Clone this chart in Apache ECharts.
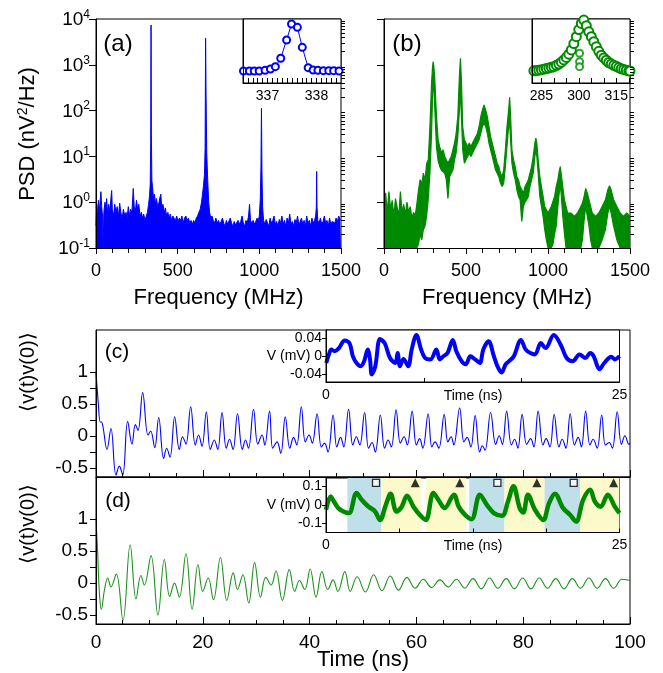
<!DOCTYPE html>
<html><head><meta charset="utf-8">
<script src="https://cdn.jsdelivr.net/npm/echarts@6/dist/echarts.min.js"></script>
<style>html,body{margin:0;padding:0;background:#fff}#chart{width:663px;height:673px}</style>
</head><body><div id="chart"></div>
<script>
// ---------------- DATA ----------------
// (a) PSD, blue spectrum (MHz, nV^2/Hz)
const aFreq = [0,5,10,15,20,25,30,35,40,44,48,55,60,65,72,78,85,92,96,100,108,115,122,130,138,145,152,160,168,176,184,190,198,205,212,220,228,234,240,248,255,262,270,278,285,292,300,308,315,322,328,332,335,337,339,342,346,352,358,364,370,378,386,392,397,402,410,418,425,432,440,448,455,462,470,478,486,494,502,510,518,526,534,542,550,558,566,574,582,590,598,606,614,622,630,638,646,652,658,664,668,671,674,678,684,690,696,702,710,718,726,734,742,750,758,766,774,782,790,798,806,814,822,830,838,846,854,862,870,878,886,894,902,910,918,926,934,940,946,954,962,970,978,986,994,1000,1006,1010,1013,1016,1020,1026,1034,1042,1050,1058,1066,1074,1082,1090,1098,1106,1114,1122,1130,1138,1146,1154,1162,1170,1178,1186,1194,1202,1210,1218,1226,1234,1242,1250,1258,1266,1274,1282,1290,1298,1306,1314,1322,1330,1338,1345,1349,1351,1353,1358,1366,1374,1382,1390,1398,1406,1414,1422,1430,1438,1446,1454,1462,1470,1478,1486,1494,1500];
const aPsd = [0.3,0.9,0.5,1.1,0.6,1.0,1.7,0.8,0.5,0.1,0.6,1.0,0.7,1.2,0.5,0.9,0.6,1.3,1.8,0.7,0.5,0.9,0.6,0.8,0.5,0.95,0.6,0.45,0.7,0.5,0.6,0.45,0.8,0.5,0.7,0.6,2.0,0.8,0.6,1.1,0.7,0.9,0.5,0.6,0.45,0.55,0.4,0.5,0.6,0.9,1.4,2.5,20,7400,30,3,2.2,1.2,1.5,0.9,1.2,0.8,1.0,1.3,1.5,0.8,0.9,0.6,0.75,0.5,0.6,0.45,0.55,0.4,0.5,0.45,0.4,0.5,0.38,0.45,0.4,0.5,0.35,0.45,0.5,0.4,0.45,0.35,0.4,0.33,0.4,0.35,0.45,0.5,0.6,0.7,1.0,1.5,2.3,4,15,3800,200,12,3,1.0,0.6,0.45,0.5,0.4,0.35,0.45,0.35,0.4,0.33,0.38,0.45,0.35,0.3,0.4,0.33,0.35,0.45,0.35,0.3,0.38,0.32,0.35,0.4,0.33,0.38,0.5,0.35,0.3,0.4,0.35,0.5,0.9,0.4,0.35,0.4,0.33,0.38,0.45,0.4,0.5,1.2,6,112,5,0.8,0.4,0.33,0.42,0.35,0.3,0.45,0.35,0.4,0.5,0.33,0.38,0.3,0.42,0.35,0.5,0.33,0.4,0.3,0.45,0.35,0.55,0.33,0.38,0.3,0.42,0.35,0.5,0.32,0.38,0.45,0.33,0.4,0.3,0.5,0.35,0.4,0.3,0.45,0.35,0.4,0.5,0.8,4.7,0.8,0.4,0.35,0.45,0.33,0.38,0.5,0.35,0.4,0.3,0.45,0.33,0.38,0.42,0.35,0.45,0.38,0.5,0.42,0.4];
// (a) inset: zoom on the 337 MHz line
const aInsetFreq = [336.51,336.63,336.73,336.83,336.95,337.06,337.16,337.27,337.39,337.49,337.61,337.71,337.83,337.93,338.03,338.14,338.25,338.35,338.46];
const aInsetPsd = [0.87,0.87,0.87,0.87,0.98,1.24,1.89,8.5,229,4070,2230,61,1.58,1.04,0.98,0.92,0.92,0.92,0.87];
// (b) PSD, green spectrum: upper and lower edge of the noisy trace
const bFreq = [0,10,20,30,40,50,60,70,80,90,100,110,120,130,140,150,160,170,180,190,200,210,220,230,240,250,260,270,280,290,296,300,304,310,320,330,340,350,360,370,380,390,400,410,420,430,440,450,460,466,472,480,490,500,510,520,530,540,550,560,570,580,590,600,610,620,630,640,650,660,670,680,690,700,710,720,730,740,750,760,766,772,780,790,800,810,820,830,840,850,860,870,880,890,900,910,920,926,932,940,950,960,970,980,990,1000,1010,1020,1030,1040,1050,1060,1070,1075,1080,1090,1100,1110,1120,1140,1160,1180,1200,1210,1220,1230,1240,1250,1260,1270,1290,1310,1330,1350,1365,1375,1385,1400,1420,1440,1460,1480,1500];
const bHigh = [0.8,1.6,0.6,1.7,0.7,1.1,0.5,1.2,0.78,0.5,1.7,0.6,0.9,0.55,1.0,0.6,0.8,0.45,0.6,0.5,0.9,1.8,3.1,2.5,4.3,3.0,7.0,8.5,45,400,900,1170,900,470,74,23,16,12,14,10,8.4,7.1,8.4,10,13.9,19.5,32,74,600,1390,470,45,23,19.5,16.5,19.5,16.5,19.5,23,27,32,45,74,104,133,104,74,45,27,19.5,13.9,10,7.1,6.0,4.3,3.65,5.1,13.9,45,104,196,74,13.9,8.4,6.0,3.65,3.1,2.2,1.87,1.58,2.2,2.6,3.1,4.3,6.0,10,19.5,25,19.5,8.4,3.65,2.2,1.34,0.81,0.81,0.58,0.58,0.81,0.81,1.34,2.2,3.1,5.1,6.0,4.3,2.2,1.13,0.81,0.58,0.58,0.49,0.58,0.81,0.96,1.34,2.0,1.58,1.13,0.81,0.58,0.49,0.58,0.81,1.13,1.87,2.3,1.87,1.13,0.81,0.58,0.49,0.58,0.49];
const bLow = [0.1,0.1,0.1,0.1,0.1,0.1,0.1,0.1,0.1,0.1,0.1,0.1,0.1,0.1,0.1,0.1,0.1,0.1,0.1,0.1,0.1,0.12,0.2,0.15,0.25,0.3,0.5,1.2,4.3,32,200,470,330,104,16,8,6,5,5,4.3,3.1,1.2,3.6,4.3,5,8.4,12,27,104,335,74,13.9,7.1,8.4,10,11.8,10,11.8,13.9,16.5,19.5,23,32,45,53,45,32,19.5,13.9,10,7.1,5.1,4.3,3.6,2.6,2.2,2.6,6,16.5,45,53,23,7.1,4.3,3.1,1.87,1.34,1.13,0.38,0.81,1.0,1.13,1.34,2.2,3.1,4.3,10,13.9,10,4.3,1.34,0.81,0.49,0.25,0.15,0.1,0.1,0.1,0.12,0.2,0.3,0.8,1.8,2.2,1.58,0.5,0.21,0.1,0.1,0.1,0.1,0.1,0.1,0.15,0.4,0.81,0.49,0.3,0.15,0.1,0.1,0.1,0.15,0.25,0.58,0.81,0.58,0.3,0.15,0.1,0.1,0.1,0.1];
// (b) inset: zoom on the 300 MHz line
const bInsetFreq = [281,282,283,284,285,286,287,288,289,290,291,292,293,294,295,296,297,298,299,300,301,302,303,304,305,306,307,308,309,310,311,312,313,314,315,316,317,318,319,320,320.5];
const bInsetPsd = [0.87,0.9,0.95,1.0,1.1,1.2,1.35,1.5,1.7,1.9,2.4,3.0,4.2,6.3,10,18,38,120,415,1500,4500,8300,3000,1000,415,170,69,30,15,9,6,4,3.1,2.4,2.0,1.6,1.3,1.15,1.0,0.9,0.87];
const bInsetOutFreq = [300.3,300.3,300.3];
const bInsetOutPsd = [4.6,1.9,21];
// (c) autocorrelation, blue (time ns, normalised)
const cTime = [0,0.4,0.8,1.0,1.3,2.06,2.8,3.75,4.37,5.0,5.93,6.74,7.37,7.87,8.74,9.74,10.24,11.0,11.74,12.67,13.24,13.86,14.73,15.6,16.2,16.85,17.73,18.6,19.2,19.85,20.66,21.4,22.15,22.8,23.6,24.4,25.0,25.66,26.5,27.4,28.0,28.55,29.5,30.3,31.1,31.6,32.5,33.1,33.9,34.6,35.45,36.3,37.0,37.6,38.45,39.2,39.9,40.5,41.4,42.2,42.8,43.45,44.4,45.1,45.8,46.4,47.3,48.1,48.75,49.4,50.3,51.05,51.7,52.3,53.25,54.05,54.7,55.3,56.2,57.0,57.7,58.3,59.2,60.0,60.6,61.2,62.2,62.9,63.5,64.2,65.2,65.9,66.5,67.0,68.1,68.9,69.5,70.2,71.0,71.85,72.35,72.85,73.9,74.85,75.5,76.1,76.9,77.8,78.4,79.0,79.8,80.65,81.4,82.0,82.8,83.7,84.3,85.0,85.8,86.7,87.3,88.0,88.8,89.6,90.3,90.9,91.7,92.5,93.1,93.85,94.7,95.4,96.1,96.7,97.6,98.4,99.06,99.8,100];
const cCorr = [1.0,0.55,0.22,0.22,0.15,-0.21,0.12,-0.61,-0.47,-0.61,0.23,-0.125,0.18,0.09,0.68,0.016,0.08,-0.18,0.29,-0.35,-0.19,-0.33,0.30,-0.21,-0.01,-0.125,0.46,-0.14,0.016,-0.16,0.38,-0.21,-0.06,-0.21,0.37,-0.19,-0.05,-0.21,0.35,-0.21,-0.06,-0.19,0.42,-0.125,0.016,-0.14,0.39,-0.19,-0.09,-0.27,0.30,-0.19,-0.02,-0.14,0.46,-0.09,0.016,-0.11,0.35,-0.17,-0.11,-0.25,0.33,-0.17,-0.02,-0.17,0.42,-0.14,-0.01,-0.14,0.37,-0.19,-0.10,-0.25,0.33,-0.19,-0.06,-0.17,0.41,-0.11,-0.01,-0.14,0.39,-0.14,-0.04,-0.19,0.35,-0.17,-0.09,-0.19,0.34,-0.09,-0.01,-0.14,0.44,-0.09,-0.02,-0.17,0.32,-0.25,-0.15,-0.22,0.37,-0.13,0.005,-0.13,0.39,-0.14,-0.05,-0.19,0.34,-0.13,-0.04,-0.17,0.39,-0.14,-0.04,-0.17,0.34,-0.17,-0.05,-0.19,0.35,-0.14,-0.02,-0.17,0.39,-0.14,-0.05,-0.19,0.33,-0.14,-0.10,-0.19,0.38,-0.13,0.005,-0.13,-0.11];
// (c) inset: voltage trace (ns, mV)
const cInsetTime = [0.02,0.25,0.45,0.74,1.1,1.6,2.0,2.3,2.6,2.95,3.25,3.55,3.75,3.9,4.2,4.6,5.0,5.45,5.9,6.1,6.3,6.6,7.0,7.3,7.7,8.1,8.45,8.9,9.4,9.7,10.0,10.35,10.8,11.1,11.55,11.9,12.3,12.7,13.1,13.4,13.85,14.3,14.6,14.95,15.3,15.6,16.0,16.6,17.0,17.4,17.8,18.3,18.7,19.4,20.0,20.5,21.0,21.6,22.1,22.5,22.8,23.3,23.7,24.3,24.6,25.0];
const cInsetV = [-0.015,0.004,0.015,0.011,0.018,0.035,0.029,-0.001,-0.015,-0.022,-0.011,0.015,-0.007,-0.04,-0.022,0.038,0.029,-0.004,-0.015,0.007,-0.022,-0.006,-0.022,0.015,0.047,0.015,-0.004,-0.007,0.015,-0.007,0,0.007,0.036,0.011,-0.011,-0.018,0,-0.007,-0.015,0.015,0.033,0,-0.022,-0.036,-0.018,-0.011,0,0.036,0.015,0.007,0.004,0.029,0.018,0.047,0.025,-0.004,-0.011,0.004,-0.004,0.007,0,-0.029,-0.015,-0.001,-0.007,0];
// (d) autocorrelation, green
const dTime = [0,0.3,0.6,1.0,1.6,2.2,2.8,3.8,5.05,6.4,7.5,8.4,9.05,10.3,11.6,12.8,13.8,14.7,15.6,16.85,18.0,19.1,20.0,21.0,22.0,23.3,24.5,25.7,26.5,27.5,28.6,29.7,30.8,31.8,32.8,33.7,34.9,36.2,37.2,38.1,39.1,40.1,41.2,42.3,43.4,44.4,45.3,46.6,47.6,48.9,50.45,52.0,53.55,55.1,56.65,58.2,59.75,61.3,62.85,64.4,65.95,67.5,69.05,70.6,72.15,73.7,75.25,76.8,78.35,79.9,81.45,83.0,84.55,86.1,87.65,89.2,90.75,92.3,93.85,95.4,96.95,98.5,100];
const dCorr = [1.0,0.5,-0.1,-0.41,-0.1,0.08,-0.06,0.14,-0.58,0.60,-0.25,0.12,-0.03,0.43,-0.50,0.37,-0.21,0.0,-0.22,0.46,-0.41,0.29,-0.13,0.08,-0.26,0.40,-0.27,0.16,-0.10,0.13,-0.31,0.32,-0.22,0.09,-0.03,0.19,-0.27,0.21,-0.13,0.04,-0.10,0.22,-0.22,0.18,-0.10,0.05,-0.13,0.18,-0.13,0.10,-0.14,0.13,-0.12,0.11,-0.11,0.09,-0.08,0.06,-0.07,0.05,-0.06,0.06,-0.08,0.07,-0.09,0.08,-0.08,0.07,-0.09,0.08,-0.09,0.08,-0.08,0.07,-0.09,0.07,-0.08,0.08,-0.08,0.07,-0.08,0.06,0.04];
// (d) inset: voltage trace
const dInsetTime = [0,0.4,0.65,1.05,1.48,1.96,2.6,3.04,3.6,4.18,4.6,5.1,5.5,6.0,6.45,6.9,7.45,8.0,8.5,9.15,9.66,10.1,10.9,11.3,11.85,12.4,13.1,13.7,14.3,15.0,15.5,15.97,16.5,16.8,17.2,17.8,18.5,19.0,19.5,20.2,20.8,21.3,21.9,22.5,22.9,23.4,24.0,24.6,25.0];
const dInsetV = [-0.027,0.045,0.02,-0.018,-0.036,-0.045,0.064,0.027,-0.009,-0.036,-0.082,0,0.06,-0.036,-0.01,0.049,-0.01,-0.055,-0.082,0.064,0.018,-0.018,0.055,-0.01,-0.055,-0.078,0.055,0,-0.045,-0.06,0.018,0.1,-0.018,-0.042,0.055,-0.027,-0.082,0.009,0.06,-0.018,-0.055,-0.091,0.027,0.082,0.018,-0.01,0.055,-0.01,-0.045];
const dBlueBands = [[1.82,4.69],[12.2,15.2],[18.6,21.65]];
const dYellowBands = [[4.69,8.1],[8.53,11.95],[15.2,18.6],[21.65,25]];
const dSquareTimes = [4.26,14.6,21.1];
const dTriangleTimes = [7.6,11.4,17.96,24.5];
const markerLevel = 0.119;
// tick labels
const psdTicks = [0.1,1,10,100,1000,10000];
const freqTicks = [0,500,1000,1500];
const corrLabels = [-0.5,0,0.5,1];
const corrTicks = [-0.5,-0.25,0,0.25,0.5,0.75,1];
const aInsetLabels = [337,338];
const bInsetLabels = [285,300,315];
const cInsetYLabels = [-0.04,0,0.04];
const dInsetYLabels = [-0.1,0,0.1];
const insetTimeLabels = [0,25];

// ---------------- CHART ----------------
const FONT = "'Liberation Sans', Arial, Helvetica, sans-serif";
const BLUE = '#0000ff', GREEN = '#008a00', DGREEN = '#1c921c';
const zip = (a, b) => a.map((x, i) => [x, b[i]]);
const minorLog = [];
for (let e = -1; e < 4; e++) for (let k = 2; k <= 9; k++) minorLog.push(+(k * Math.pow(10, e)).toPrecision(3));
const range = (a, b, s) => { const r = []; for (let v = a; v <= b + 1e-9; v += s) r.push(+v.toFixed(4)); return r; };
const plain = v => String(v);

const black = { color: '#000', width: 1 };
function baseAxis(o) {
  const base = {
    splitLine: { show: false },
    axisTick: { lineStyle: black },
    axisLabel: { color: '#000', fontFamily: FONT, formatter: plain },
    z: 10
  };
  const r = Object.assign(base, o);
  r.axisLine = Object.assign({ show: true, onZero: false, lineStyle: black }, o.axisLine || {});
  return r;
}
const grids = [
  { left: 96, top: 19, width: 245, height: 229 },
  { left: 384, top: 19, width: 246, height: 229 },
  { left: 243, top: 19, width: 98, height: 64, backgroundColor: '#fff', z: 5 },
  { left: 532, top: 19, width: 98, height: 64, backgroundColor: '#fff', z: 5 },
  { left: 96, top: 330, width: 534, height: 147 },
  { left: 96, top: 477, width: 534, height: 147 },
  { left: 326, top: 330, width: 293.5, height: 52, backgroundColor: '#fff', z: 5 },
  { left: 326, top: 478, width: 293.5, height: 54.5, backgroundColor: '#fff', z: 5 }
].map(g => Object.assign({ show: true, borderColor: '#000', borderWidth: 1, containLabel: false }, g));

const lbl = (o) => Object.assign({ color: '#000', fontFamily: FONT, formatter: plain }, o);
const xAxes = [
  baseAxis({ gridIndex: 0, type: 'value', min: 0, max: 1500, interval: 500,
    axisTick: { length: 6, lineStyle: black }, minorTick: { show: true, splitNumber: 5, length: 5, lineStyle: black },
    axisLabel: lbl({ fontSize: 18, margin: 14, customValues: freqTicks }) }),
  baseAxis({ gridIndex: 1, type: 'value', min: 0, max: 1500, interval: 500,
    axisTick: { length: 6, lineStyle: black }, minorTick: { show: true, splitNumber: 5, length: 5, lineStyle: black },
    axisLabel: lbl({ fontSize: 18, margin: 14, customValues: freqTicks }) }),
  baseAxis({ gridIndex: 2, type: 'value', min: 336.5, max: 338.5, z: 8,
    axisTick: { inside: true, length: 5, lineStyle: black, customValues: range(336.6, 338.4, 0.1) },
    axisLabel: lbl({ fontSize: 14, margin: 6, customValues: aInsetLabels }) }),
  baseAxis({ gridIndex: 3, type: 'value', min: 281.25, max: 320.5, z: 8,
    axisTick: { inside: true, length: 5, lineStyle: black, customValues: range(285, 320, 5) },
    axisLabel: lbl({ fontSize: 14, margin: 6, customValues: bInsetLabels }) }),
  baseAxis({ gridIndex: 4, type: 'value', min: 0, max: 100, interval: 20,
    axisTick: { inside: true, length: 7, lineStyle: black }, minorTick: { show: true, splitNumber: 4, length: 4, lineStyle: black },
    axisLabel: { show: false } }),
  baseAxis({ gridIndex: 5, type: 'value', min: 0, max: 100, interval: 20,
    axisTick: { inside: true, length: 7, lineStyle: black }, minorTick: { show: true, splitNumber: 4, length: 4, lineStyle: black },
    axisLabel: lbl({ fontSize: 19, margin: 9 }) }),
  baseAxis({ gridIndex: 6, type: 'value', min: 0, max: 25, interval: 25 / 3, z: 8,
    axisTick: { inside: true, length: 4, lineStyle: black },
    axisLabel: lbl({ fontSize: 14, margin: 6, customValues: insetTimeLabels }) }),
  baseAxis({ gridIndex: 7, type: 'value', min: 0, max: 25, interval: 6.25, z: 8,
    axisTick: { inside: true, length: 4, lineStyle: black },
    axisLabel: lbl({ fontSize: 14, margin: 6, customValues: insetTimeLabels }) })
];

const logLabel = {
  color: '#000', fontFamily: FONT, margin: 6, customValues: psdTicks,
  formatter: v => '{b|10}{s|' + Math.round(Math.log10(v)) + '}',
  rich: { b: { fontSize: 19, fontFamily: FONT, color: '#000', verticalAlign: 'bottom' },
          s: { fontSize: 12, fontFamily: FONT, color: '#000', verticalAlign: 'bottom', padding: [0, 0, 9, 0] } }
};
const voltFmt = v => v === 0 ? 'V (mV) 0' : String(v);
const yAxes = [
  baseAxis({ gridIndex: 0, type: 'log', min: 0.1, max: 10000, axisTick: { length: 7, lineStyle: black, customValues: psdTicks }, axisLabel: logLabel }),
  baseAxis({ gridIndex: 0, type: 'log', min: 0.1, max: 10000, axisLine: { show: false }, axisTick: { length: 4, lineStyle: black, customValues: minorLog }, axisLabel: { show: false } }),
  baseAxis({ gridIndex: 1, type: 'log', min: 0.1, max: 10000, axisTick: { length: 7, lineStyle: black, customValues: psdTicks }, axisLabel: { show: false } }),
  baseAxis({ gridIndex: 1, type: 'log', min: 0.1, max: 10000, axisLine: { show: false }, axisTick: { length: 4, lineStyle: black, customValues: minorLog }, axisLabel: { show: false } }),
  baseAxis({ gridIndex: 2, type: 'log', min: 0.1, max: 10000, z: 8, axisTick: { show: false }, axisLabel: { show: false } }),
  baseAxis({ gridIndex: 3, type: 'log', min: 0.1, max: 10000, z: 8, axisTick: { show: false }, axisLabel: { show: false } }),
  baseAxis({ gridIndex: 4, type: 'value', min: -0.64, max: 1.66, axisTick: { length: 6, lineStyle: black, customValues: corrTicks },
    axisLabel: lbl({ fontSize: 19, margin: 8, customValues: corrLabels }) }),
  baseAxis({ gridIndex: 5, type: 'value', min: -0.64, max: 1.66, axisTick: { length: 6, lineStyle: black, customValues: corrTicks },
    axisLabel: lbl({ fontSize: 19, margin: 8, customValues: corrLabels }) }),
  baseAxis({ gridIndex: 6, type: 'value', min: -0.057, max: 0.058, z: 8, axisTick: { length: 4, lineStyle: black, customValues: cInsetYLabels },
    axisLabel: lbl({ fontSize: 14, margin: 4, customValues: cInsetYLabels, formatter: voltFmt }) }),
  baseAxis({ gridIndex: 7, type: 'value', min: -0.15, max: 0.145, z: 8, axisTick: { length: 4, lineStyle: black, customValues: dInsetYLabels },
    axisLabel: lbl({ fontSize: 14, margin: 4, customValues: dInsetYLabels, formatter: voltFmt }) })
];

const bandData = (bands) => bands.map(b => [{ xAxis: b[0] }, { xAxis: b[1] }]);
const dInsetPts = zip(dInsetTime, dInsetV);
const series = [
  { type: 'line', xAxisIndex: 0, yAxisIndex: 0, data: zip(aFreq, aPsd), showSymbol: false,
    lineStyle: { color: BLUE, width: 1 }, areaStyle: { color: BLUE, opacity: 1, origin: 'start' }, z: 2 },
  { type: 'line', xAxisIndex: 1, yAxisIndex: 2, data: zip(bFreq, bHigh), showSymbol: false,
    lineStyle: { color: GREEN, width: 1.2 }, areaStyle: { color: GREEN, opacity: 1, origin: 'start' }, z: 2 },
  { type: 'line', xAxisIndex: 1, yAxisIndex: 2, data: zip(bFreq, bLow), showSymbol: false,
    lineStyle: { color: GREEN, width: 1.2 }, areaStyle: { color: '#fff', opacity: 1, origin: 'start' }, z: 3 },
  { type: 'line', xAxisIndex: 2, yAxisIndex: 4, data: zip(aInsetFreq, aInsetPsd), symbol: 'emptyCircle', symbolSize: 7,
    lineStyle: { color: BLUE, width: 1 }, itemStyle: { color: BLUE, borderWidth: 1 }, z: 7 },
  { type: 'line', xAxisIndex: 3, yAxisIndex: 5, data: zip(bInsetFreq, bInsetPsd), symbol: 'emptyCircle', symbolSize: 9,
    lineStyle: { color: GREEN, width: 7 }, itemStyle: { color: GREEN, borderWidth: 1.5 }, z: 7 },
  { type: 'scatter', xAxisIndex: 3, yAxisIndex: 5, data: zip(bInsetOutFreq, bInsetOutPsd), symbol: 'emptyCircle', symbolSize: 7,
    itemStyle: { color: GREEN, borderWidth: 1.5 }, z: 7 },
  { type: 'line', xAxisIndex: 4, yAxisIndex: 6, data: zip(cTime, cCorr), showSymbol: false, smooth: 0.4,
    lineStyle: { color: BLUE, width: 1.1 }, z: 2 },
  { type: 'line', xAxisIndex: 5, yAxisIndex: 7, data: zip(dTime, dCorr), showSymbol: false, smooth: 0.4,
    lineStyle: { color: DGREEN, width: 1.1 }, z: 2 },
  { type: 'line', xAxisIndex: 6, yAxisIndex: 8, data: zip(cInsetTime, cInsetV), showSymbol: false, smooth: 0.35,
    lineStyle: { color: BLUE, width: 4 }, z: 7 },
  { type: 'line', xAxisIndex: 7, yAxisIndex: 9, data: dInsetPts, showSymbol: false, z: 6,
    lineStyle: { opacity: 0 },
    markArea: { silent: true, z: 6, itemStyle: { color: '#bfe0e9', opacity: 1 }, data: bandData(dBlueBands) } },
  { type: 'line', xAxisIndex: 7, yAxisIndex: 9, data: dInsetPts, showSymbol: false, z: 6,
    lineStyle: { opacity: 0 },
    markArea: { silent: true, z: 6, itemStyle: { color: '#fcfacb', opacity: 1 }, data: bandData(dYellowBands) } },
  { type: 'line', xAxisIndex: 7, yAxisIndex: 9, data: dInsetPts, showSymbol: false, smooth: 0.35,
    lineStyle: { color: GREEN, width: 4.5 }, z: 7 },
  { type: 'scatter', xAxisIndex: 7, yAxisIndex: 9, data: dSquareTimes.map(t => [t, markerLevel]), symbol: 'rect', symbolSize: 7,
    itemStyle: { color: '#fff', borderColor: '#000', borderWidth: 1.3 }, z: 8 },
  { type: 'scatter', xAxisIndex: 7, yAxisIndex: 9, data: dTriangleTimes.map(t => [t, markerLevel]), symbol: 'triangle', symbolSize: 9,
    itemStyle: { color: '#000' }, z: 8 }
];

const txt = (text, x, y, size, extra) => Object.assign({ type: 'text', x: x, y: y, z: 20,
  style: Object.assign({ text: text, fontSize: size, fontFamily: FONT, fill: '#000', align: 'center', verticalAlign: 'middle' }, extra && extra.style) },
  extra && extra.el);
const graphic = [
  txt('(a)', 118, 44, 24),
  txt('(b)', 407, 44, 24),
  txt('(c)', 117, 352, 21),
  txt('(d)', 118, 501, 21),
  txt('Frequency (MHz)', 218.5, 298, 22),
  txt('Frequency (MHz)', 507, 298, 22),
  txt('Time (ns)', 363, 660, 22),
  txt('Time (ns)', 473, 396, 14),
  txt('Time (ns)', 473, 546, 14),
  txt('PSD (nV{s|2}/Hz)', 28, 134, 22, { el: { rotation: Math.PI / 2 },
    style: { rich: { s: { fontSize: 14, fontFamily: FONT, fill: '#000', verticalAlign: 'bottom', padding: [0, 0, 10, 0] } } } }),
  txt('\u27E8v(t)v(0)\u27E9', 28, 372, 20, { el: { rotation: Math.PI / 2 } }),
  txt('\u27E8v(t)v(0)\u27E9', 28, 524, 20, { el: { rotation: Math.PI / 2 } })
];

const chart = echarts.init(document.getElementById('chart'), null, { renderer: 'canvas' });
chart.setOption({ animation: false, backgroundColor: '#fff', textStyle: { fontFamily: FONT },
  grid: grids, xAxis: xAxes, yAxis: yAxes, series: series, graphic: graphic });
</script></body></html>
